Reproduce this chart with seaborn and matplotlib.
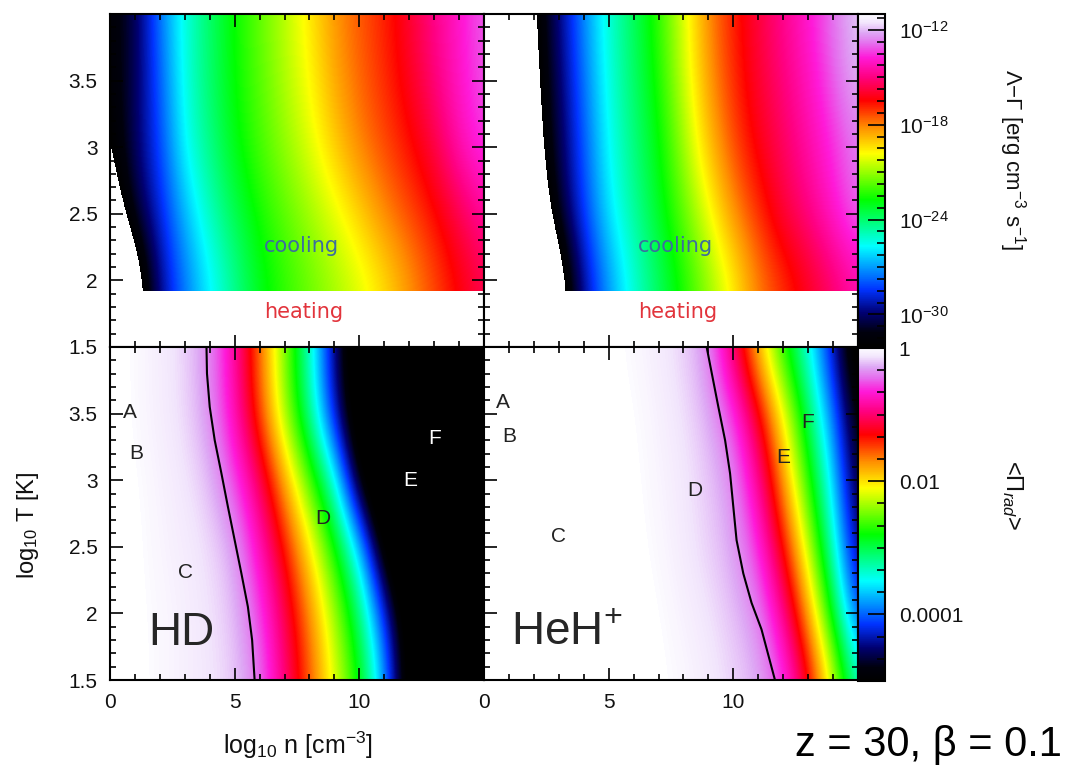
import numpy as np
import matplotlib
matplotlib.use("Agg")
import matplotlib.pyplot as plt
import seaborn as sns
from matplotlib.colors import LinearSegmentedColormap, Normalize
from matplotlib.patches import Rectangle
from matplotlib.ticker import MultipleLocator

sns.set_theme(style="ticks")
plt.rcParams["font.family"] = ["Liberation Sans", "DejaVu Sans"]
plt.rcParams["mathtext.fontset"] = "custom"
plt.rcParams["mathtext.rm"] = "Liberation Sans"
plt.rcParams["mathtext.it"] = "Liberation Sans:italic"
plt.rcParams["mathtext.bf"] = "Liberation Sans:bold"
plt.rcParams["axes.axisbelow"] = False

# ---- data ----
# grid nodes: log10 n (columns) and log10 T (rows)
log_n = np.arange(0, 16)
T_rows_top = [2.0, 2.5, 3.0, 3.5, 4.0]
T_rows_bot = [1.5, 2.0, 2.5, 3.0, 3.5, 4.0]
T_heating = 1.92          # below this Lambda-Gamma < 0 (heating)

# log10(Lambda - Gamma) [erg cm^-3 s^-1], HD
hd_cool = [
    [-36.0, -33.5, -29.6, -27.5, -25.82, -24.43, -23.07, -22.25, -21.57, -20.89, -20.21, -19.38, -18.31, -17.36, -16.44, -15.6],
    [-33.47, -30.8, -28.77, -26.6, -24.93, -23.66, -22.53, -21.73, -20.93, -20.12, -19.16, -18.1, -17.35, -16.6, -15.61, -14.6],
    [-32.3, -30.1, -28.2, -25.6, -24.3, -22.97, -21.98, -21.1, -20.2, -19.1, -18.05, -17.35, -16.63, -15.75, -14.3, -13.4],
    [-31.8, -30.3, -27.9, -25.35, -24.0, -22.73, -21.77, -20.76, -19.8, -18.56, -17.68, -16.97, -16.15, -15.1, -14.0, -13.1],
    [-31.7, -30.4, -27.5, -25.26, -23.95, -22.67, -21.64, -20.62, -19.54, -18.27, -17.51, -16.84, -15.95, -14.88, -13.94, -13.0],
]
# log10(Lambda - Gamma), HeH+
heh_cool = [
    [-40.0, -38.0, -36.0, -33.3, -29.46, -27.05, -25.25, -23.89, -22.52, -21.1, -19.67, -17.98, -17.05, -16.15, -15.29, -14.4],
    [-40.0, -37.0, -34.0, -30.96, -28.24, -25.99, -24.55, -23.23, -21.68, -20.02, -18.23, -17.0, -15.79, -14.99, -13.9, -12.8],
    [-39.0, -36.0, -33.0, -30.44, -27.92, -25.6, -24.25, -22.9, -20.98, -18.95, -17.38, -16.27, -15.41, -14.5, -13.57, -12.7],
    [-38.5, -35.5, -32.6, -30.1, -27.56, -25.33, -23.98, -22.53, -20.48, -18.38, -16.94, -15.92, -15.06, -14.13, -13.07, -12.0],
    [-38.0, -35.0, -32.2, -29.77, -27.21, -25.16, -23.79, -22.25, -20.21, -18.1, -16.77, -15.75, -14.81, -13.88, -12.8, -11.7],
]
# log10 <Pi_rad>, HD
hd_rad = [
    [0.1, 0.03, -0.02, -0.07, -0.12, -0.19, -0.4, -0.95, -1.53, -2.16, -2.77, -3.76, -5.2, -6, -6, -6],
    [0.08, 0.02, -0.02, -0.07, -0.13, -0.22, -0.52, -1.07, -1.68, -2.34, -3.05, -4.15, -5.3, -6, -6, -6],
    [0.07, 0.02, -0.04, -0.09, -0.15, -0.28, -0.74, -1.33, -2.02, -2.73, -3.61, -5.05, -6, -6, -6, -6],
    [0.06, 0.01, -0.05, -0.12, -0.22, -0.52, -1.02, -1.79, -2.56, -3.37, -4.85, -5.8, -6, -6, -6, -6],
    [0.05, -0.01, -0.08, -0.16, -0.33, -0.77, -1.5, -2.37, -3.2, -4.3, -5.4, -6, -6, -6, -6, -6],
    [0.05, -0.01, -0.08, -0.17, -0.36, -0.82, -1.59, -2.45, -3.3, -4.45, -5.5, -6, -6, -6, -6, -6],
]
# log10 <Pi_rad>, HeH+
heh_rad = [
    [0.2, 0.19, 0.18, 0.15, 0.12, 0.09, 0.05, 0.02, -0.02, -0.09, -0.17, -0.25, -0.51, -1.19, -2.2, -3.3],
    [0.2, 0.19, 0.17, 0.14, 0.11, 0.07, 0.04, 0.01, -0.06, -0.13, -0.22, -0.35, -0.86, -1.75, -2.89, -4.15],
    [0.2, 0.18, 0.16, 0.13, 0.1, 0.06, 0.03, -0.02, -0.1, -0.18, -0.28, -0.58, -1.29, -2.25, -3.35, -4.54],
    [0.2, 0.18, 0.15, 0.12, 0.09, 0.05, 0.02, -0.04, -0.11, -0.2, -0.34, -0.84, -1.73, -2.68, -3.62, -4.77],
    [0.2, 0.17, 0.14, 0.11, 0.08, 0.04, 0.01, -0.06, -0.14, -0.25, -0.53, -1.21, -2.09, -3.03, -3.92, -5.0],
    [0.2, 0.17, 0.14, 0.1, 0.07, 0.03, -0.02, -0.09, -0.18, -0.35, -1.03, -1.91, -2.76, -3.43, -4.35, -5.3],
]

# black curve in the lower panels
hd_line_T = [4.0, 3.8, 3.55, 3.3, 3.05, 2.8, 2.55, 2.3, 2.05, 1.8, 1.5]
hd_line_n = [3.87, 3.89, 4.0, 4.2, 4.47, 4.73, 5.0, 5.27, 5.53, 5.7, 5.8]
heh_line_T = [4.0, 3.55, 3.3, 3.05, 2.8, 2.55, 2.3, 2.08, 1.88, 1.5]
heh_line_n = [8.93, 9.4, 9.67, 9.87, 10.0, 10.13, 10.4, 10.73, 11.13, 11.67]

# point labels A-F
pt_names = ["A", "B", "C", "D", "E", "F"]
hd_pt_n = [0.8, 1.04, 3.04, 8.52, 12.04, 13.04]
hd_pt_T = [3.51, 3.2, 2.31, 2.71, 3.0, 3.31]
hd_pt_col = ["#222222", "#222222", "#222222", "#222222", "white", "white"]
heh_pt_n = [0.77, 1.0, 2.97, 8.47, 12.0, 12.97]
heh_pt_T = [3.58, 3.33, 2.58, 2.92, 3.17, 3.43]

cool_ticks = [-30, -24, -18, -12]
rad_ticks = [-4, -2, 0]
rad_tick_labels = ["0.0001", "0.01", "1"]

# ---- colour map (black-blue-cyan-green-yellow-red-magenta-white) ----
cmap_nodes = [
    (0.00, (0, 0, 0)), (0.04, (0, 0, 0.05)), (0.10, (0, 0, 0.45)),
    (0.17, (0, 0.2, 1)), (0.30, (0, 1, 1)), (0.44, (0, 1, 0)),
    (0.58, (1, 1, 0)), (0.66, (1, 0.55, 0)), (0.74, (1, 0, 0)),
    (0.81, (1, 0, 0.5)), (0.87, (1, 0.1, 0.85)), (0.91, (0.9, 0.42, 0.93)),
    (0.945, (0.87, 0.66, 0.96)), (0.975, (0.95, 0.9, 0.99)),
    (1.00, (0.99, 0.985, 1.0)),
]
base = LinearSegmentedColormap.from_list("idl_rainbow_white", cmap_nodes, N=512)
cmap_cool = base.copy()
cmap_cool.set_under("white")
cmap_rad = base.copy()
cmap_rad.set_over("white")
norm_cool = Normalize(-32, -11)
norm_rad = Normalize(-5, 0)

W, H = 1071, 770
fig = plt.figure(figsize=(W / 100, H / 100), dpi=100)

x0, pw, ph = 110 / W, 0.3492, 0.43247
x1 = x0 + pw
y_top, y_bot = 1 - 347 / H, 1 - 680 / H
ax_tl = fig.add_axes([x0, y_top, pw, ph])
ax_tr = fig.add_axes([x1, y_top, pw, ph])
ax_bl = fig.add_axes([x0, y_bot, pw, ph])
ax_br = fig.add_axes([x1, y_bot, pw, ph])
cb_x = x1 + pw
cax_top = fig.add_axes([cb_x, 1 - 346 / H, 0.0252, 332 / H])
cax_bot = fig.add_axes([cb_x, 1 - 681 / H, 0.0252, 333 / H])


def draw_field(ax, grid, rows, cmap, norm):
    dy = rows[1] - rows[0]
    ext = [log_n[0] - 0.5, log_n[-1] + 0.5, rows[0] - dy / 2, rows[-1] + dy / 2]
    im = ax.imshow(np.array(grid), origin="lower", extent=ext, aspect="auto",
                   cmap=cmap, norm=norm, interpolation="bicubic",
                   interpolation_stage="data", zorder=1)
    return im


def style_axes(ax, xlabels, ylabels):
    ax.set_axisbelow(False)
    ax.set_xlim(0, 15)
    ax.set_ylim(1.5, 4.0)
    ax.set_xticks([0, 5, 10, 15])
    ax.set_yticks([1.5, 2, 2.5, 3, 3.5, 4])
    ax.xaxis.set_minor_locator(MultipleLocator(1))
    ax.yaxis.set_minor_locator(MultipleLocator(0.1))
    ax.set_xticklabels(["0", "5", "10", ""])
    ax.set_yticklabels(["1.5", "2", "2.5", "3", "3.5", ""])
    ax.tick_params(which="both", direction="in", top=True, right=True,
                   color="black", width=1.2, labelsize=15, labelcolor="#111111",
                   labelbottom=xlabels, labelleft=ylabels)
    ax.tick_params(which="major", length=9, pad=9)
    ax.tick_params(which="minor", length=4.5)
    for s in ax.spines.values():
        s.set_color("black")
        s.set_linewidth(1.5)
        s.set_zorder(5)


# top row: net cooling rate
for ax, grid in [(ax_tl, hd_cool), (ax_tr, heh_cool)]:
    im_cool = draw_field(ax, grid, T_rows_top, cmap_cool, norm_cool)
    im_cool.set_clip_path(Rectangle((0, T_heating), 15, 4.0 - T_heating,
                                    transform=ax.transData))
    ax.text(7.68, 2.26, "cooling", color="#3c6e9e", fontsize=15,
            family="DejaVu Sans", ha="center", va="center", zorder=3)
    ax.text(7.75, 1.76, "heating", color="#e2343c", fontsize=15,
            family="DejaVu Sans", ha="center", va="center", zorder=3)

# bottom row: radiative fraction
im_rad = draw_field(ax_bl, hd_rad, T_rows_bot, cmap_rad, norm_rad)
draw_field(ax_br, heh_rad, T_rows_bot, cmap_rad, norm_rad)
sns.lineplot(x=hd_line_n, y=hd_line_T, sort=False, estimator=None,
             color="black", lw=1.5, ax=ax_bl, legend=False, zorder=3)
sns.lineplot(x=heh_line_n, y=heh_line_T, sort=False, estimator=None,
             color="black", lw=1.5, ax=ax_br, legend=False, zorder=3)

for name, n, t, c in zip(pt_names, hd_pt_n, hd_pt_T, hd_pt_col):
    ax_bl.text(n, t, name, color=c, fontsize=15, ha="center", va="center", zorder=4)
for name, n, t in zip(pt_names, heh_pt_n, heh_pt_T):
    ax_br.text(n, t, name, color="#222222", fontsize=15, ha="center", va="center", zorder=4)

ax_bl.text(1.52, 1.76, "HD", fontsize=33, ha="left", va="baseline", zorder=4)
ax_br.text(1.08, 1.76, "HeH$^{+}$", fontsize=33, ha="left", va="baseline", zorder=4)

style_axes(ax_tl, False, True)
style_axes(ax_tr, False, False)
style_axes(ax_bl, True, True)
style_axes(ax_br, True, False)

# colour bars
cb1 = fig.colorbar(im_cool, cax=cax_top)
cb1.set_ticks(cool_ticks)
cb1.set_ticklabels([f"$10^{{{t}}}$" for t in cool_ticks])
cax_top.yaxis.set_minor_locator(MultipleLocator(0.75))

cb2 = fig.colorbar(im_rad, cax=cax_bot)
cb2.set_ticks(rad_ticks)
cb2.set_ticklabels(rad_tick_labels)
cax_bot.yaxis.set_minor_locator(MultipleLocator(1 / 3))

for cb in (cb1, cb2):
    cb.outline.set_linewidth(1.5)
    cb.outline.set_edgecolor("black")
    cb.ax.set_axisbelow(False)
    cb.ax.tick_params(which="both", direction="in", right=True, left=False,
                      color="black", width=1.2, labelsize=15, labelcolor="#111111")
    cb.ax.tick_params(which="major", length=12, pad=10)
    cb.ax.tick_params(which="minor", length=6)

fig.text(1012 / W, 1 - 160 / H, "Λ−Γ [erg cm$^{-3}$ s$^{-1}$]", rotation=270,
         ha="center", va="center", fontsize=16, color="#111111")
fig.text(1012 / W, 1 - 495 / H, "<Π$_{rad}$>", rotation=270,
         ha="center", va="center", fontsize=17, color="#111111")

fig.text(28 / W, 1 - 525 / H, "log$_{10}$ T [K]", rotation=90,
         ha="center", va="center", fontsize=17, color="#111111")
fig.text(298 / W, 1 - 745 / H, "log$_{10}$ n [cm$^{-3}$]",
         ha="center", va="center", fontsize=18, color="#111111")
fig.text(795 / W, 1 - 745 / H, "z = 30, β = 0.1", ha="left", va="center",
         fontsize=30, color="black")

fig.savefig("out.png", dpi=100)
